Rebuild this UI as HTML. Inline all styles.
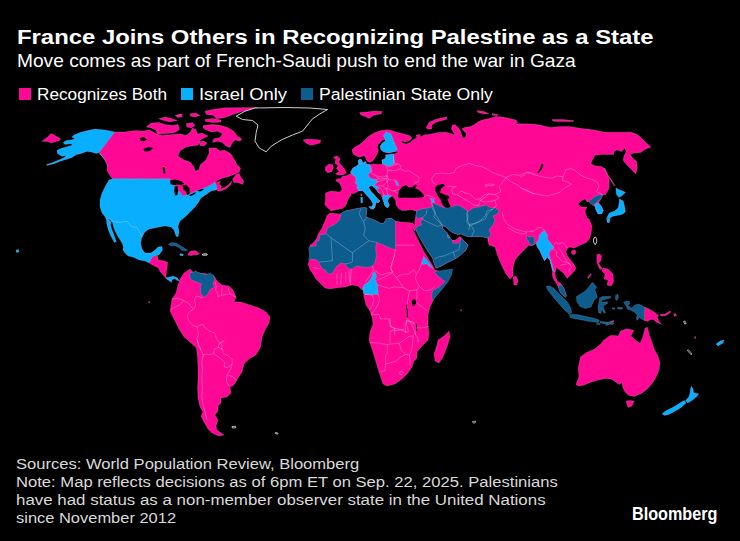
<!DOCTYPE html>
<html><head><meta charset="utf-8"><title>France Joins Others in Recognizing Palestine as a State</title><style>
html,body{margin:0;padding:0;background:#000;}
body{width:740px;height:541px;overflow:hidden;position:relative;font-family:"Liberation Sans",sans-serif;color:#fff;}
.t{position:absolute;white-space:nowrap;line-height:1;transform-origin:0 0;}
.sq{position:absolute;top:88.1px;width:12.2px;height:12.2px;}
svg{position:absolute;left:0;top:0;}
</style></head><body>
<svg width="740" height="541" viewBox="0 0 740 541" shape-rendering="geometricPrecision">
<path d="M41.9,141.2 L46.9,137.5 L51.2,133.5 L55.0,135.6 L60.6,138.8 L59.4,140.6 L51.2,143.1 L47.5,141.5Z" fill="#ff0896" stroke="#fff" stroke-opacity="0.28" stroke-width="0.5"/>
<path d="M115.0,131.9 L105.0,130.0 L95.0,129.0 L87.5,130.6 L80.0,132.5 L73.8,135.0 L71.9,136.9 L75.0,138.8 L71.2,140.0 L66.2,140.6 L63.1,142.5 L65.0,144.4 L71.2,143.8 L72.5,145.0 L66.2,146.9 L60.0,148.8 L56.9,150.6 L57.5,153.8 L61.9,156.2 L66.2,155.6 L64.4,157.5 L58.8,160.0 L52.5,162.5 L46.2,164.8 L46.9,165.5 L53.8,163.8 L61.2,161.0 L67.5,159.1 L72.5,157.2 L76.2,154.8 L81.2,153.4 L86.9,151.5 L91.2,152.1 L96.2,153.4 L99.4,152.5Z" fill="#0aaeff" stroke="#fff" stroke-opacity="0.28" stroke-width="0.5"/>
<path d="M99.4,152.5 L102.5,154.8 L105.2,157.2 L107.2,161.0 L108.0,164.0 L108.8,167.5 L107.8,167.5 L106.8,163.8 L105.2,160.6 L102.5,156.9 L100.0,154.4Z" fill="#0aaeff" stroke="#fff" stroke-opacity="0.28" stroke-width="0.5"/>
<path d="M115.0,132.0 L125.0,132.0 L135.0,130.6 L142.5,131.0 L150.0,130.0 L156.0,133.8 L162.5,135.6 L172.5,134.4 L180.0,133.8 L186.0,135.6 L190.0,132.5 L192.5,128.0 L196.0,129.4 L197.5,134.0 L202.0,133.0 L208.0,136.0 L200.0,140.0 L198.0,145.0 L186.0,147.0 L180.0,151.0 L178.0,156.0 L184.0,160.0 L190.0,162.0 L194.0,167.0 L195.0,171.0 L199.0,170.0 L200.0,165.0 L206.0,160.0 L209.0,153.0 L209.0,148.0 L216.0,148.0 L220.0,151.0 L224.0,150.0 L228.0,152.0 L231.0,154.1 L234.0,159.3 L237.0,164.5 L240.7,168.2 L239.2,172.0 L234.7,174.2 L228.8,176.4 L222.8,177.9 L218.4,180.1 L213.9,183.1 L216.9,182.4 L220.6,180.9 L219.1,183.9 L221.4,186.1 L220.6,189.1 L224.3,187.6 L228.8,184.6 L231.8,180.9 L231.0,184.6 L225.8,189.1 L219.9,191.3 L216.9,190.5 L215.4,188.3 L215.0,182.5 L207.0,187.0 L199.0,190.0 L189.0,194.0 L183.0,196.0 L178.0,190.0 L170.0,179.0 L112.5,178.8 L111.3,177.5 L108.8,173.8 L106.9,170.0 L107.5,165.6 L105.6,161.3 L102.5,156.3 L99.4,152.5Z" fill="#ff0896" stroke="#fff" stroke-opacity="0.28" stroke-width="0.5"/>
<path d="M106.4,219.2 L110.1,220.6 L110.9,222.5 L110.6,224.9 L111.6,228.7 L113.4,233.4 L114.9,237.6 L116.3,241.4 L114.4,242.6 L112.5,239.1 L110.1,234.3 L108.2,229.6 L106.8,223.9Z" fill="#0aaeff" stroke="#fff" stroke-opacity="0.28" stroke-width="0.5"/>
<path d="M112.5,178.8 L170.0,179.0 L178.0,190.0 L183.0,196.0 L189.0,194.0 L199.0,190.0 L207.0,187.0 L215.0,182.5 L217.0,188.0 L216.0,190.0 L211.0,191.0 L207.0,194.0 L201.0,198.0 L198.0,203.0 L195.0,207.0 L191.0,211.0 L185.0,217.0 L180.0,221.0 L178.0,226.0 L179.0,232.0 L178.0,237.0 L176.0,236.0 L174.0,230.0 L171.0,227.0 L165.0,226.0 L159.0,227.0 L155.0,228.0 L149.0,229.0 L145.0,232.0 L142.0,237.0 L140.6,243.0 L142.0,249.0 L145.0,253.0 L151.0,253.0 L155.0,250.0 L158.0,247.0 L162.0,246.5 L162.5,250.0 L159.0,255.0 L155.0,256.0 L152.0,259.0 L149.0,263.0 L145.0,261.0 L139.0,260.0 L133.0,257.0 L128.1,256.0 L125.3,253.2 L122.9,249.9 L123.4,247.1 L122.4,243.8 L120.1,240.0 L117.2,235.3 L115.3,231.5 L113.4,226.8 L112.5,222.5 L111.1,221.3 L110.1,219.2 L106.4,219.2 L104.5,216.0 L102.0,213.0 L100.0,207.0 L100.0,200.0 L102.0,193.0 L106.0,185.0 L109.0,180.0Z" fill="#0aaeff" stroke="#fff" stroke-opacity="0.28" stroke-width="0.5"/>
<path d="M170.0,180.4 L175.0,179.6 L181.0,181.0 L184.0,183.6 L181.4,185.6 L177.0,184.4 L173.4,185.2 L170.6,184.0Z" fill="#000000"/>
<path d="M174.6,186.4 L177.4,186.0 L178.2,190.0 L177.4,195.0 L175.0,195.6 L174.2,191.0Z" fill="#000000"/>
<path d="M182.6,185.6 L186.0,184.8 L189.4,188.0 L189.8,193.6 L187.4,195.0 L185.4,191.0 L183.0,189.0Z" fill="#000000"/>
<path d="M188.6,195.2 L193.0,193.2 L196.0,192.0 L195.0,194.0 L191.0,196.0Z" fill="#000000"/>
<path d="M197.0,190.8 L202.0,188.8 L204.0,189.6 L200.0,191.6Z" fill="#000000"/>
<path d="M140.0,138.0 L143.8,137.0 L146.8,139.5 L143.8,141.5 L140.5,140.5Z" fill="#000000"/>
<path d="M143.2,149.0 L148.8,147.0 L153.0,148.0 L150.0,151.0 L145.0,151.5Z" fill="#000000"/>
<path d="M162.5,167.0 L164.5,167.0 L165.5,173.0 L163.5,174.0Z" fill="#000000"/>
<path d="M146.2,126.9 L151.2,123.1 L158.8,122.5 L165.0,124.4 L172.5,125.6 L178.1,124.4 L179.4,129.4 L175.0,132.5 L166.2,133.5 L157.5,134.0 L155.6,130.0 L151.2,128.1Z" fill="#ff0896" stroke="#fff" stroke-opacity="0.28" stroke-width="0.5"/>
<path d="M158.8,118.8 L165.0,116.9 L172.5,118.8 L177.5,120.6 L170.0,121.9 L163.8,120.6Z" fill="#ff0896" stroke="#fff" stroke-opacity="0.28" stroke-width="0.5"/>
<path d="M175.0,115.6 L180.0,114.1 L182.8,114.5 L178.1,116.2Z" fill="#ff0896" stroke="#fff" stroke-opacity="0.28" stroke-width="0.5"/>
<path d="M205.0,111.2 L212.5,109.4 L225.0,107.8 L257.5,107.5 L245.0,110.6 L235.0,113.8 L225.0,117.5 L216.2,118.8 L213.8,115.6 L206.2,114.4Z" fill="#ff0896" stroke="#fff" stroke-opacity="0.28" stroke-width="0.5"/>
<path d="M205.0,119.4 L212.5,118.5 L221.2,120.0 L220.6,122.2 L212.5,122.5 L205.6,121.5Z" fill="#ff0896" stroke="#fff" stroke-opacity="0.28" stroke-width="0.5"/>
<path d="M190.0,113.8 L196.2,113.1 L200.0,115.6 L195.0,116.9 L190.6,116.2Z" fill="#ff0896" stroke="#fff" stroke-opacity="0.28" stroke-width="0.5"/>
<path d="M176.2,115.6 L181.2,114.4 L182.5,116.9 L177.5,117.5Z" fill="#ff0896" stroke="#fff" stroke-opacity="0.28" stroke-width="0.5"/>
<path d="M186.2,123.8 L192.5,122.5 L195.0,125.6 L191.2,128.1 L186.9,126.9Z" fill="#ff0896" stroke="#fff" stroke-opacity="0.28" stroke-width="0.5"/>
<path d="M203.1,125.6 L212.5,124.4 L221.2,125.6 L227.5,127.5 L233.8,131.2 L237.5,136.2 L241.9,138.8 L240.0,141.2 L235.0,140.0 L232.5,142.5 L230.0,147.5 L226.2,146.2 L222.5,142.5 L217.5,141.2 L212.5,142.5 L213.8,138.8 L220.0,137.5 L222.5,133.8 L217.5,131.2 L211.2,131.9 L206.2,130.0 L203.1,128.1Z" fill="#ff0896" stroke="#fff" stroke-opacity="0.28" stroke-width="0.5"/>
<path d="M198.8,141.9 L203.8,141.0 L206.9,143.1 L204.4,146.0 L200.0,145.6Z" fill="#ff0896" stroke="#fff" stroke-opacity="0.28" stroke-width="0.5"/>
<path d="M232.5,179.4 L236.2,174.2 L239.2,173.4 L240.7,177.2 L243.7,180.9 L242.9,184.6 L237.7,182.4 L234.0,182.4Z" fill="#ff0896" stroke="#fff" stroke-opacity="0.28" stroke-width="0.5"/>
<path d="M236.2,116.2 L245.0,111.2 L255.0,108.0 L285.0,107.5 L310.0,108.0 L327.5,109.5 L320.0,113.8 L312.5,118.8 L307.5,125.0 L302.5,131.2 L292.5,135.0 L281.2,140.0 L271.2,146.2 L266.2,151.8 L259.2,148.0 L255.0,141.2 L256.2,132.5 L258.0,125.0 L252.5,120.5 L242.5,119.5Z" fill="#000" stroke="#ffffff" stroke-width="0.9" stroke-opacity="0.9"/>
<path d="M303.0,140.1 L307.4,138.9 L314.9,139.4 L320.8,140.1 L320.1,143.1 L314.9,144.6 L310.4,145.3 L305.9,143.1Z" fill="#ff0896" stroke="#fff" stroke-opacity="0.28" stroke-width="0.5"/>
<path d="M152.6,256.4 L155.7,255.7 L157.6,256.4 L158.2,260.1 L163.9,260.8 L167.7,262.6 L167.0,267.7 L166.4,272.7 L165.8,276.5 L167.7,277.7 L166.4,279.0 L163.3,275.2 L160.1,271.4 L158.2,267.7 L153.8,265.8 L149.4,263.3 L150.7,260.1Z" fill="#ff0896" stroke="#fff" stroke-opacity="0.28" stroke-width="0.5"/>
<path d="M166.4,279.0 L167.0,277.7 L170.2,276.8 L173.9,276.2 L177.7,278.1 L179.2,281.1 L177.1,280.5 L174.6,278.6 L172.1,279.8 L171.4,282.4 L168.9,280.5Z" fill="#0aaeff" stroke="#fff" stroke-opacity="0.28" stroke-width="0.5"/>
<path d="M168.3,244.4 L171.4,242.5 L176.5,243.2 L181.5,246.3 L185.3,248.8 L187.8,250.1 L184.6,251.1 L181.5,250.1 L179.0,247.6 L175.2,245.7 L170.8,245.7Z" fill="#0d5c8e" stroke="#fff" stroke-opacity="0.28" stroke-width="0.5"/>
<path d="M179.6,254.1 L181.5,253.6 L183.5,254.6 L182.7,255.9 L180.2,255.6Z" fill="#0aaeff" stroke="#fff" stroke-opacity="0.28" stroke-width="0.5"/>
<path d="M189.0,252.6 L191.5,250.7 L195.9,250.7 L199.7,253.8 L196.6,255.1 L194.0,254.5 L191.5,255.7 L187.8,255.1Z" fill="#ff0896" stroke="#fff" stroke-opacity="0.28" stroke-width="0.5"/>
<path d="M202.5,254.1 L206.9,253.8 L207.1,255.1 L202.6,255.2Z" fill="#000" stroke="#ffffff" stroke-width="0.9" stroke-opacity="0.9"/>
<path d="M180.0,279.0 L184.0,273.0 L190.0,269.0 L193.0,272.0 L200.0,273.0 L208.0,274.0 L214.0,276.0 L217.0,281.0 L222.0,285.0 L229.0,286.0 L233.0,290.0 L236.0,297.0 L234.0,302.0 L241.0,302.0 L250.0,305.0 L259.0,308.0 L266.0,312.0 L270.0,317.0 L269.0,323.0 L265.0,330.0 L262.0,337.0 L261.0,345.0 L260.0,348.0 L256.0,355.0 L249.0,359.0 L244.0,364.0 L242.0,372.0 L238.0,378.0 L234.0,385.0 L230.0,387.0 L231.0,393.0 L227.0,397.0 L221.0,398.0 L221.0,403.0 L218.0,406.0 L218.0,411.0 L215.0,415.0 L218.0,420.0 L216.0,426.0 L217.0,430.0 L224.0,435.0 L219.0,436.0 L212.0,433.0 L208.0,429.0 L204.0,422.0 L201.0,416.0 L203.0,412.0 L200.0,407.0 L198.0,398.0 L197.6,388.0 L198.0,378.0 L198.0,368.0 L197.6,358.0 L196.4,348.0 L191.0,343.0 L184.0,337.0 L179.0,329.0 L174.0,319.0 L170.0,311.0 L171.0,305.0 L172.0,299.0 L176.0,293.0 L178.0,285.0Z" fill="#ff0896" stroke="#fff" stroke-opacity="0.28" stroke-width="0.5"/>
<path d="M190.3,272.7 L194.0,272.1 L195.3,270.8 L200.3,273.3 L205.4,274.6 L210.4,273.3 L213.5,275.2 L214.8,280.2 L212.9,283.4 L214.1,287.8 L210.4,289.0 L207.9,294.0 L204.1,297.2 L201.0,294.0 L200.3,287.8 L201.6,284.0 L195.3,281.5 L190.9,279.6 L189.6,275.8Z" fill="#0d5c8e" stroke="#fff" stroke-opacity="0.28" stroke-width="0.5"/>
<path d="M331.0,211.0 L328.0,208.0 L324.7,204.7 L325.5,199.7 L325.5,193.0 L331.0,191.0 L339.7,192.0 L342.0,189.5 L341.0,186.0 L339.5,183.0 L335.5,180.5 L337.0,179.0 L341.0,178.5 L342.0,176.5 L347.0,175.5 L351.0,173.5 L350.6,172.0 L353.0,168.0 L356.0,166.4 L358.8,163.9 L358.0,160.8 L360.0,158.9 L361.9,160.0 L362.5,163.0 L365.0,163.9 L370.0,164.5 L373.8,163.9 L378.8,164.5 L382.5,164.0 L381.9,160.0 L384.4,158.9 L386.0,157.6 L385.6,155.0 L393.8,153.9 L398.8,152.0 L395.1,151.5 L389.2,152.8 L384.0,152.0 L381.0,149.8 L380.3,146.1 L382.5,143.1 L385.5,140.9 L385.5,139.4 L382.5,140.1 L380.3,142.4 L378.0,144.6 L377.3,147.6 L378.5,150.5 L377.3,153.5 L375.8,156.5 L374.3,158.7 L372.8,160.9 L369.9,162.4 L367.6,161.7 L366.2,159.5 L365.4,157.2 L363.9,155.7 L361.7,156.5 L359.5,157.2 L355.7,155.7 L352.8,153.5 L352.0,149.8 L354.3,147.6 L359.5,144.6 L363.9,140.9 L368.4,136.4 L374.3,132.7 L381.0,130.5 L387.7,129.7 L392.5,130.8 L397.5,132.6 L403.8,133.9 L410.0,135.8 L411.9,138.0 L409.4,140.8 L405.0,142.0 L401.0,140.8 L402.5,143.0 L406.0,143.9 L410.0,142.6 L413.8,139.5 L416.9,137.6 L416.0,135.0 L420.0,134.5 L420.6,137.0 L423.9,134.9 L429.9,134.2 L437.3,132.7 L444.7,132.0 L450.7,133.4 L455.1,134.9 L451.4,129.0 L452.2,125.3 L455.1,124.5 L458.9,128.2 L461.1,132.7 L462.6,137.9 L465.5,137.2 L466.3,133.4 L461.8,129.0 L464.1,127.5 L470.0,126.8 L474.5,124.5 L477.4,122.3 L481.9,120.1 L489.3,118.6 L496.0,116.4 L502.7,117.1 L510.1,118.6 L516.1,120.1 L517.6,123.0 L513.1,124.5 L519.1,123.8 L525.0,123.8 L532.0,124.0 L540.0,125.0 L550.0,127.5 L560.0,126.4 L568.9,126.4 L582.3,128.6 L594.2,130.1 L604.6,132.3 L619.5,132.3 L631.4,132.3 L637.3,134.5 L642.5,139.0 L646.2,142.7 L651.0,146.9 L644.7,149.4 L641.0,152.4 L634.3,153.1 L629.9,154.6 L632.8,158.3 L636.6,161.3 L637.3,168.0 L635.8,173.9 L631.4,169.5 L626.9,165.0 L623.2,160.5 L623.9,156.1 L626.2,151.6 L624.7,147.9 L621.7,151.6 L617.2,150.1 L614.3,150.9 L613.5,154.6 L609.1,154.6 L601.6,154.6 L594.9,155.3 L590.5,163.5 L594.9,165.7 L601.6,166.5 L604.6,168.7 L607.0,174.0 L609.0,179.0 L609.2,185.7 L608.4,190.1 L605.5,194.6 L602.5,195.3 L601.0,199.1 L598.5,202.5 L601.0,205.7 L603.2,210.2 L601.8,213.9 L598.0,213.9 L595.8,209.5 L595.1,206.5 L592.8,205.0 L590.6,203.5 L589.1,201.3 L587.0,202.0 L585.0,199.0 L581.0,201.0 L578.0,204.0 L581.0,207.0 L587.0,207.0 L585.0,211.0 L587.0,218.0 L589.0,219.0 L592.0,226.0 L591.0,234.0 L589.3,239.1 L586.3,242.5 L581.5,244.6 L577.4,246.6 L573.9,248.3 L572.6,247.7 L569.8,247.0 L567.4,248.3 L566.1,251.4 L566.8,254.8 L569.2,258.3 L571.9,261.7 L574.3,265.1 L576.0,268.0 L574.5,270.8 L571.2,274.6 L567.0,278.4 L563.7,273.2 L559.9,270.3 L556.6,267.5 L555.1,272.7 L555.6,277.4 L557.5,281.2 L560.8,283.6 L563.7,287.8 L565.1,291.6 L566.5,295.9 L565.5,297.3 L563.2,295.4 L560.3,292.6 L558.4,287.0 L555.6,282.2 L553.2,278.4 L552.3,275.5 L552.5,272.0 L551.2,265.2 L549.7,260.0 L547.4,257.0 L544.5,260.7 L542.2,256.3 L540.0,251.1 L537.0,246.6 L536.3,242.9 L534.0,245.0 L530.0,246.0 L529.0,245.0 L526.0,248.0 L521.0,253.0 L515.0,260.0 L513.0,268.0 L513.0,276.0 L510.0,279.0 L506.0,274.0 L501.0,264.0 L497.0,254.0 L495.0,247.0 L489.0,245.0 L488.0,241.0 L488.0,238.0 L481.7,236.7 L475.0,236.7 L468.0,236.7 L465.3,235.8 L460.9,233.9 L457.8,234.5 L452.7,232.7 L448.3,229.5 L445.2,226.4 L442.1,225.8 L442.7,228.3 L444.6,230.2 L447.1,232.7 L448.3,235.8 L450.2,237.7 L452.1,240.2 L455.8,240.8 L459.0,238.0 L461.0,237.5 L464.0,241.0 L468.0,245.0 L466.0,250.0 L461.7,254.0 L457.5,257.5 L453.0,260.0 L446.7,263.0 L440.0,266.7 L436.0,268.0 L434.0,263.0 L432.5,258.0 L428.0,251.7 L424.0,245.0 L420.0,238.0 L416.7,231.7 L415.8,228.0 L414.5,222.0 L415.8,215.8 L416.7,210.8 L415.0,211.0 L411.0,209.4 L406.0,210.6 L402.0,210.6 L398.8,208.8 L396.0,205.0 L395.6,200.0 L392.0,196.0 L388.8,198.0 L387.5,201.0 L389.4,205.0 L387.5,208.0 L385.0,206.0 L383.8,202.0 L382.5,198.8 L381.0,195.0 L379.0,192.5 L376.0,188.5 L372.0,185.6 L369.5,186.5 L368.8,187.5 L370.6,191.0 L374.4,195.0 L377.5,198.8 L380.0,201.0 L378.0,203.0 L376.0,202.0 L375.6,205.0 L374.4,208.0 L372.0,207.5 L373.0,204.0 L371.0,200.0 L367.0,195.5 L362.5,190.5 L358.8,191.0 L353.8,193.8 L351.0,193.0 L350.8,195.5 L348.0,199.5 L346.8,203.5 L345.0,206.5 L342.0,208.6 L337.0,209.5 L333.0,210.5Z" fill="#ff0896" stroke="#fff" stroke-opacity="0.28" stroke-width="0.5"/>
<path d="M398.0,197.0 L398.8,191.0 L402.0,187.0 L406.0,185.0 L408.8,187.5 L412.5,187.0 L415.6,184.4 L417.0,185.5 L415.0,188.0 L418.8,190.0 L423.0,193.8 L424.4,197.0 L420.0,197.5 L412.5,198.0 L405.0,197.5 L400.0,198.0Z" fill="#000000"/>
<path d="M435.4,187.2 L437.6,184.9 L443.6,183.9 L445.1,185.7 L441.4,187.9 L439.9,192.4 L444.3,194.6 L448.8,196.1 L449.5,198.3 L447.3,199.1 L448.8,202.8 L450.6,206.5 L449.5,208.7 L445.8,208.0 L442.1,204.3 L440.6,199.8 L437.6,195.3 L435.4,190.9Z" fill="#000000"/>
<path d="M542.3,163.4 L543.5,164.9 L541.6,169.3 L538.6,173.0 L537.5,172.6 L540.1,168.6 L541.1,164.9Z" fill="#000000"/>
<path d="M426.1,127.5 L429.1,122.3 L435.8,119.3 L447.0,116.8 L446.4,119.5 L437.3,121.8 L432.3,124.5 L431.4,129.0 L427.6,129.2Z" fill="#ff0896" stroke="#fff" stroke-opacity="0.28" stroke-width="0.5"/>
<path d="M477.0,110.4 L484.0,111.6 L489.0,113.6 L484.0,114.0 L478.0,112.4Z" fill="#ff0896" stroke="#fff" stroke-opacity="0.28" stroke-width="0.5"/>
<path d="M492.0,113.6 L498.0,114.6 L497.0,115.8 L492.0,115.0Z" fill="#ff0896" stroke="#fff" stroke-opacity="0.28" stroke-width="0.5"/>
<path d="M552.0,119.6 L562.0,119.4 L574.0,120.6 L573.0,121.6 L560.0,121.4 L553.0,121.2Z" fill="#ff0896" stroke="#fff" stroke-opacity="0.28" stroke-width="0.5"/>
<path d="M604.7,167.8 L607.7,174.5 L611.4,179.7 L615.1,185.7 L613.9,185.4 L610.4,179.7 L607.0,174.5 L604.1,169.0Z" fill="#ff0896" stroke="#fff" stroke-opacity="0.28" stroke-width="0.5"/>
<path d="M333.4,157.2 L337.2,155.7 L340.1,158.7 L338.9,162.4 L341.6,165.4 L344.6,169.1 L346.4,172.8 L343.1,175.1 L337.2,175.1 L335.7,173.6 L339.4,171.4 L336.4,168.4 L337.9,165.4 L334.9,163.2 L335.7,159.5Z" fill="#ff0896" stroke="#fff" stroke-opacity="0.28" stroke-width="0.5"/>
<path d="M325.3,166.9 L329.0,163.9 L332.7,164.7 L333.4,167.6 L332.0,171.4 L327.5,172.8 L325.3,170.6Z" fill="#ff0896" stroke="#fff" stroke-opacity="0.28" stroke-width="0.5"/>
<path d="M359.5,112.6 L366.9,111.9 L374.3,111.1 L382.5,111.6 L381.0,114.1 L374.3,114.9 L369.1,118.6 L365.4,116.4 L360.9,114.9Z" fill="#ff0896" stroke="#fff" stroke-opacity="0.28" stroke-width="0.5"/>
<path d="M360.6,193.8 L361.9,193.8 L362.0,195.8 L360.9,195.8Z" fill="#ff0896" stroke="#fff" stroke-opacity="0.28" stroke-width="0.5"/>
<path d="M513.0,277.0 L516.0,276.0 L518.0,280.0 L517.0,285.0 L514.0,285.0Z" fill="#ff0896" stroke="#fff" stroke-opacity="0.28" stroke-width="0.5"/>
<path d="M571.4,251.4 L573.0,249.9 L575.2,250.3 L576.0,252.2 L574.8,254.3 L572.6,254.6 L571.3,253.2Z" fill="#ff0896" stroke="#fff" stroke-opacity="0.28" stroke-width="0.5"/>
<path d="M383.2,135.7 L386.2,132.0 L390.7,133.4 L392.9,138.6 L395.1,144.6 L397.4,149.1 L395.1,151.5 L389.2,152.8 L384.0,152.0 L381.0,149.8 L380.3,146.1 L382.5,143.1 L385.5,140.9 L384.7,137.9Z" fill="#0aaeff" stroke="#fff" stroke-opacity="0.28" stroke-width="0.5"/>
<path d="M385.6,155.0 L393.8,153.9 L393.8,158.0 L394.4,162.0 L392.5,165.0 L389.4,167.0 L386.0,165.0 L382.5,164.0 L381.9,160.0 L384.4,158.9 L386.0,157.6Z" fill="#0aaeff" stroke="#fff" stroke-opacity="0.28" stroke-width="0.5"/>
<path d="M358.8,163.9 L358.0,160.8 L360.0,158.9 L361.9,160.0 L362.5,163.0Z" fill="#0aaeff" stroke="#fff" stroke-opacity="0.28" stroke-width="0.5"/>
<path d="M363.5,162.0 L366.0,161.5 L366.5,163.5 L364.0,164.0Z" fill="#0aaeff" stroke="#fff" stroke-opacity="0.28" stroke-width="0.5"/>
<path d="M358.8,163.9 L362.5,163.0 L365.0,163.9 L370.0,164.5 L370.6,168.0 L371.0,172.0 L368.0,174.5 L369.4,177.6 L373.0,179.0 L376.0,179.5 L377.5,182.0 L375.0,184.5 L375.0,185.8 L372.0,185.6 L369.5,186.5 L368.8,187.5 L370.6,191.0 L374.4,195.0 L377.5,198.8 L380.0,201.0 L378.0,203.0 L376.0,202.0 L375.6,205.0 L374.4,208.0 L372.0,207.5 L373.0,204.0 L371.0,200.0 L367.0,195.5 L362.5,190.5 L358.8,191.0 L357.5,188.8 L356.9,187.0 L357.5,185.0 L355.0,183.0 L356.0,180.8 L355.6,177.0 L352.0,174.5 L350.6,172.0 L353.0,168.0 L356.0,166.4Z" fill="#0aaeff" stroke="#fff" stroke-opacity="0.28" stroke-width="0.5"/>
<path d="M372.0,185.6 L375.0,185.8 L378.0,186.5 L379.0,188.5 L376.5,188.5 L378.0,191.0 L380.0,193.5 L378.5,193.0 L376.0,189.5Z" fill="#0aaeff" stroke="#fff" stroke-opacity="0.28" stroke-width="0.5"/>
<path d="M368.8,206.5 L374.4,206.2 L374.0,209.0 L371.9,209.5 L369.4,207.8Z" fill="#0aaeff" stroke="#fff" stroke-opacity="0.28" stroke-width="0.5"/>
<path d="M360.6,197.2 L362.5,197.0 L362.6,202.8 L360.9,203.0Z" fill="#0aaeff" stroke="#fff" stroke-opacity="0.28" stroke-width="0.5"/>
<path d="M383.0,195.6 L388.0,195.0 L392.0,196.0 L388.8,198.0 L387.5,201.0 L389.4,205.0 L387.5,208.0 L385.0,206.0 L383.8,202.0 L382.5,198.8Z" fill="#0aaeff" stroke="#fff" stroke-opacity="0.28" stroke-width="0.5"/>
<path d="M395.0,180.8 L397.5,181.5 L398.8,185.8 L396.8,185.5Z" fill="#0aaeff" stroke="#fff" stroke-opacity="0.28" stroke-width="0.5"/>
<path d="M430.0,198.0 L434.0,199.5 L434.5,202.5 L432.0,202.0Z" fill="#0aaeff" stroke="#fff" stroke-opacity="0.28" stroke-width="0.5"/>
<path d="M416.7,210.8 L421.7,209.0 L428.0,208.0 L432.5,206.7 L432.5,202.5 L436.0,204.0 L440.0,206.0 L443.0,207.5 L448.0,208.0 L451.7,206.7 L458.0,205.0 L465.0,209.0 L468.0,211.7 L473.0,208.0 L480.0,206.7 L486.0,205.0 L491.0,208.0 L495.0,207.5 L499.0,211.0 L497.5,214.0 L493.0,216.0 L495.0,220.0 L493.0,225.0 L489.0,230.0 L491.0,235.0 L488.0,238.0 L488.0,241.0 L488.0,238.0 L481.7,236.7 L475.0,236.7 L468.0,236.7 L465.3,235.8 L460.9,233.9 L457.8,234.5 L452.7,232.7 L448.3,229.5 L445.2,226.4 L442.1,225.8 L442.7,228.3 L444.6,230.2 L447.1,232.7 L448.3,235.8 L450.2,237.7 L452.1,240.2 L455.5,242.5 L459.5,241.5 L461.0,237.5 L464.0,241.0 L468.0,245.0 L466.0,250.0 L461.7,254.0 L457.5,257.5 L453.0,260.0 L446.7,263.0 L440.0,266.7 L436.0,268.0 L434.0,263.0 L432.5,258.0 L428.0,251.7 L424.0,245.0 L420.0,238.0 L416.7,231.7 L415.8,228.0 L418.0,226.0 L421.7,225.0 L420.0,221.7 L424.0,219.0 L421.7,217.5 L417.5,219.0 L415.8,215.8Z" fill="#0d5c8e" stroke="#fff" stroke-opacity="0.28" stroke-width="0.5"/>
<path d="M526.6,235.5 L529.6,237.0 L533.3,236.2 L534.8,239.9 L534.4,243.9 L532.6,245.1 L529.6,244.4 L528.1,240.7 L526.6,238.4Z" fill="#0d5c8e" stroke="#fff" stroke-opacity="0.28" stroke-width="0.5"/>
<path d="M589.1,201.3 L594.3,196.8 L599.5,194.6 L602.5,195.3 L601.0,199.1 L597.3,201.3 L595.1,204.3 L592.8,205.0 L590.6,203.5Z" fill="#0d5c8e" stroke="#fff" stroke-opacity="0.28" stroke-width="0.5"/>
<path d="M595.1,204.3 L598.0,202.8 L601.0,205.7 L603.2,210.2 L601.8,213.9 L598.0,213.9 L595.8,209.5 L595.1,206.5Z" fill="#0aaeff" stroke="#fff" stroke-opacity="0.28" stroke-width="0.5"/>
<path d="M544.5,230.3 L547.4,234.7 L547.4,239.2 L551.2,243.7 L554.1,247.4 L550.4,250.3 L548.9,254.1 L550.4,258.5 L551.9,263.7 L553.4,268.9 L554.6,271.9 L552.6,270.4 L551.2,265.2 L549.7,260.0 L547.4,257.0 L544.5,260.7 L542.2,256.3 L540.0,251.1 L537.0,246.6 L536.3,242.9 L538.5,239.9 L539.3,235.5 L541.5,232.5Z" fill="#0aaeff" stroke="#fff" stroke-opacity="0.28" stroke-width="0.5"/>
<path d="M558.4,285.5 L561.3,285.0 L563.7,287.8 L565.1,291.6 L566.5,295.9 L565.5,297.3 L563.2,295.4 L560.3,292.6 L558.9,289.3Z" fill="#0d5c8e" stroke="#fff" stroke-opacity="0.28" stroke-width="0.5"/>
<path d="M615.9,187.9 L619.6,189.8 L625.5,192.2 L622.6,195.3 L618.9,197.6 L616.4,194.6Z" fill="#0aaeff" stroke="#fff" stroke-opacity="0.28" stroke-width="0.5"/>
<path d="M619.4,198.8 L623.3,201.0 L624.8,207.2 L625.5,211.7 L622.6,214.2 L617.4,215.6 L612.2,216.4 L609.2,219.1 L606.8,217.6 L609.3,213.0 L614.5,211.0 L618.0,208.0 L619.0,203.5Z" fill="#0aaeff" stroke="#fff" stroke-opacity="0.28" stroke-width="0.5"/>
<path d="M606.6,218.2 L610.0,219.1 L609.3,223.0 L607.2,222.6Z" fill="#0aaeff" stroke="#fff" stroke-opacity="0.28" stroke-width="0.5"/>
<path d="M330.0,213.0 L335.0,213.5 L340.0,214.0 L345.0,211.0 L350.0,210.0 L357.0,208.5 L363.8,207.5 L367.0,208.0 L366.5,213.0 L366.0,217.0 L370.0,218.5 L376.0,220.8 L381.0,223.5 L384.0,223.0 L386.0,219.0 L391.0,218.0 L395.0,221.0 L401.0,222.0 L407.5,222.5 L413.0,223.0 L414.4,225.0 L415.8,228.0 L415.0,231.5 L412.5,228.5 L410.5,226.5 L413.8,231.4 L417.6,238.9 L421.3,246.5 L424.5,252.8 L427.0,256.5 L430.1,261.6 L433.3,266.6 L434.5,270.0 L442.0,272.0 L451.0,270.0 L450.0,275.0 L446.0,283.0 L440.0,291.0 L434.0,298.0 L432.0,303.0 L430.0,307.0 L428.0,315.0 L428.0,325.0 L429.0,333.0 L428.0,340.0 L422.0,346.0 L417.0,352.0 L417.0,358.0 L414.0,361.0 L412.0,367.0 L408.0,373.0 L402.0,379.0 L395.0,384.0 L387.0,386.0 L383.0,384.0 L381.0,378.0 L378.0,369.0 L375.0,359.0 L372.0,349.0 L369.0,340.0 L370.0,332.0 L373.0,324.0 L372.0,317.0 L370.0,311.0 L366.0,305.0 L364.0,297.0 L363.0,291.0 L364.0,288.0 L362.0,290.0 L358.0,286.0 L352.0,285.0 L345.0,287.0 L336.0,288.0 L330.0,289.0 L325.0,288.0 L320.0,283.0 L316.0,279.0 L313.0,274.0 L310.0,270.0 L308.0,264.0 L310.0,259.0 L310.0,252.0 L310.0,245.0 L313.0,243.0 L317.0,238.0 L318.0,234.0 L322.0,228.0 L325.0,221.0 L327.0,215.5Z" fill="#ff0896" stroke="#fff" stroke-opacity="0.28" stroke-width="0.5"/>
<path d="M341.0,213.5 L345.0,211.0 L350.0,210.0 L357.0,208.5 L363.8,207.5 L367.0,208.0 L366.5,213.0 L366.0,217.0 L370.0,218.5 L376.0,220.8 L381.0,223.5 L384.0,223.0 L386.0,219.0 L391.0,218.0 L395.4,221.0 L395.4,249.6 L392.7,248.9 L376.4,242.2 L375.6,248.1 L376.4,255.5 L374.9,263.0 L372.6,265.9 L367.4,267.4 L361.5,266.7 L356.3,265.9 L352.6,268.9 L349.6,268.9 L345.9,265.9 L345.1,263.7 L340.7,263.0 L337.0,265.9 L334.7,268.9 L333.2,272.6 L330.3,274.1 L327.3,273.4 L325.8,270.4 L322.8,268.9 L320.6,265.9 L319.1,263.0 L317.6,260.7 L314.7,259.3 L310.9,259.3 L308.7,260.7 L309.5,254.1 L308.7,248.9 L309.5,246.6 L316.1,245.9 L316.1,241.4 L319.1,240.7 L319.9,234.7 L325.8,234.0 L326.6,231.0 L327.3,228.0 L334.7,224.3 L339.2,220.6 L340.7,216.1Z" fill="#0d5c8e" stroke="#fff" stroke-opacity="0.28" stroke-width="0.5"/>
<path d="M374.5,271.4 L376.8,275.8 L375.3,279.5 L377.5,284.7 L378.2,294.4 L364.9,294.4 L362.6,289.2 L364.1,284.7 L367.8,282.5 L370.8,278.8 L373.0,273.6Z" fill="#0aaeff" stroke="#fff" stroke-opacity="0.28" stroke-width="0.5"/>
<path d="M421.4,263.9 L423.6,256.5 L426.6,259.5 L431.0,265.4 L433.2,268.4 L430.3,266.9 L426.6,263.9 L422.8,264.2Z" fill="#0aaeff" stroke="#fff" stroke-opacity="0.28" stroke-width="0.5"/>
<path d="M435.5,271.4 L445.1,269.9 L452.6,269.1 L451.8,274.3 L448.1,281.8 L442.2,289.2 L436.2,295.9 L432.5,301.1 L431.8,296.6 L432.5,290.7 L439.2,287.0 L445.1,281.8 L437.7,275.8 L434.7,272.8Z" fill="#0d5c8e" stroke="#fff" stroke-opacity="0.28" stroke-width="0.5"/>
<path d="M449.0,331.0 L450.0,337.0 L447.0,347.0 L443.0,357.0 L439.0,363.0 L435.0,361.0 L434.0,354.0 L437.0,345.0 L438.0,340.0 L444.0,336.0Z" fill="#ff0896" stroke="#fff" stroke-opacity="0.28" stroke-width="0.5"/>
<path d="M411.7,301.1 L413.6,299.3 L415.9,299.9 L416.2,303.3 L414.2,305.8 L412.1,305.2Z" fill="#000000"/>
<path d="M546.1,286.4 L549.0,285.8 L553.2,287.8 L557.0,291.6 L560.8,295.4 L564.6,299.2 L568.5,303.5 L571.0,309.0 L571.5,312.5 L569.0,314.0 L565.0,310.5 L560.5,305.5 L556.6,301.0 L554.2,298.2 L550.4,293.5 L547.6,289.7Z" fill="#0d5c8e" stroke="#fff" stroke-opacity="0.28" stroke-width="0.5"/>
<path d="M593.0,282.6 L596.8,287.4 L594.9,289.7 L596.3,293.5 L597.2,297.3 L594.0,300.5 L591.0,307.0 L585.5,308.5 L580.0,306.5 L576.8,301.5 L576.4,296.4 L579.7,294.5 L584.5,291.6 L588.3,287.8 L591.6,283.1Z" fill="#0d5c8e" stroke="#fff" stroke-opacity="0.28" stroke-width="0.5"/>
<path d="M569.6,314.2 L577.0,314.6 L586.0,316.6 L594.0,318.2 L599.4,320.0 L598.4,322.4 L590.0,321.6 L582.0,320.0 L574.0,318.6 L570.0,317.4Z" fill="#0d5c8e" stroke="#fff" stroke-opacity="0.28" stroke-width="0.5"/>
<path d="M600.0,321.5 L608.0,322.0 L614.0,323.0 L613.0,324.5 L606.0,324.0 L600.0,323.0Z" fill="#0d5c8e" stroke="#fff" stroke-opacity="0.28" stroke-width="0.5"/>
<path d="M599.5,298.2 L602.3,296.6 L610.3,296.2 L611.0,297.8 L605.6,299.2 L601.8,300.3 L601.4,302.5 L605.1,302.0 L607.8,301.8 L607.2,303.7 L604.2,305.1 L603.2,307.2 L605.6,312.4 L604.2,313.6 L601.8,309.1 L600.9,313.4 L598.7,312.9 L598.0,307.2 L599.0,302.0Z" fill="#0d5c8e" stroke="#fff" stroke-opacity="0.28" stroke-width="0.5"/>
<path d="M623.6,302.5 L626.0,301.1 L629.3,301.6 L629.7,303.9 L627.8,305.3 L631.6,308.2 L634.5,305.3 L638.2,303.9 L641.6,305.3 L644.9,307.2 L644.4,320.5 L641.6,319.1 L639.2,317.2 L638.2,319.5 L636.8,320.5 L636.4,317.6 L637.3,315.3 L634.9,312.4 L631.6,310.5 L627.4,309.1 L626.4,306.3 L625.0,304.4Z" fill="#0d5c8e" stroke="#fff" stroke-opacity="0.28" stroke-width="0.5"/>
<path d="M644.9,307.2 L648.7,308.7 L652.4,311.0 L656.2,313.4 L658.6,315.7 L657.2,317.6 L658.6,320.5 L661.5,324.5 L656.2,321.9 L653.4,319.5 L650.5,319.5 L647.7,321.4 L644.4,320.5Z" fill="#ff0896" stroke="#fff" stroke-opacity="0.28" stroke-width="0.5"/>
<path d="M660.0,314.5 L665.0,314.0 L670.0,311.0 L671.0,312.0 L666.0,315.5 L661.0,316.0Z" fill="#ff0896" stroke="#fff" stroke-opacity="0.28" stroke-width="0.5"/>
<path d="M596.8,254.7 L599.1,253.8 L601.5,255.7 L601.0,260.4 L598.7,263.2 L600.5,266.1 L602.5,268.9 L600.0,269.4 L598.2,266.1 L596.8,261.4Z" fill="#ff0896" stroke="#fff" stroke-opacity="0.28" stroke-width="0.5"/>
<path d="M603.0,268.0 L608.0,269.0 L613.0,274.0 L613.6,282.0 L611.0,286.0 L607.0,285.0 L608.0,280.0 L604.0,279.0 L605.0,274.0 L602.0,271.0Z" fill="#ff0896" stroke="#fff" stroke-opacity="0.28" stroke-width="0.5"/>
<path d="M587.5,277.5 L590.5,273.5 L591.3,274.2 L588.6,278.4Z" fill="#ff0896" stroke="#fff" stroke-opacity="0.28" stroke-width="0.5"/>
<path d="M615.5,295.4 L617.9,294.0 L618.4,297.3 L617.0,300.6 L615.5,299.2Z" fill="#0d5c8e" stroke="#fff" stroke-opacity="0.28" stroke-width="0.5"/>
<path d="M612.2,307.7 L615.0,307.9 L614.8,309.2 L612.3,309.0Z" fill="#0d5c8e" stroke="#fff" stroke-opacity="0.28" stroke-width="0.5"/>
<path d="M617.4,307.3 L622.6,307.6 L622.4,309.2 L617.6,308.9Z" fill="#0d5c8e" stroke="#fff" stroke-opacity="0.28" stroke-width="0.5"/>
<path d="M605.6,324.7 L608.9,321.9 L611.0,321.2 L611.6,322.4 L609.9,323.8 L606.6,325.7Z" fill="#0d5c8e" stroke="#fff" stroke-opacity="0.28" stroke-width="0.5"/>
<path d="M611.0,321.2 L613.7,320.5 L614.1,321.4 L611.6,322.4Z" fill="#ff0896" stroke="#fff" stroke-opacity="0.28" stroke-width="0.5"/>
<path d="M596.6,323.2 L599.8,323.4 L599.6,324.8 L596.8,324.6Z" fill="#0d5c8e" stroke="#fff" stroke-opacity="0.28" stroke-width="0.5"/>
<path d="M575.9,384.5 L578.9,377.0 L578.2,368.1 L580.4,357.0 L586.4,352.5 L593.8,349.5 L600.5,344.3 L603.4,340.6 L610.1,335.4 L614.6,335.4 L618.3,336.1 L620.5,330.9 L626.5,328.7 L633.9,330.2 L630.9,336.1 L635.4,339.9 L639.9,343.6 L642.8,336.9 L645.1,328.0 L647.3,327.2 L649.5,335.4 L651.8,341.4 L654.0,348.8 L657.7,355.5 L659.9,362.2 L659.2,369.6 L656.2,377.0 L652.5,383.0 L647.3,388.9 L641.4,393.4 L633.9,396.4 L628.7,395.6 L625.0,391.9 L622.8,387.4 L622.0,382.2 L619.1,384.5 L616.1,382.2 L611.6,379.3 L605.7,378.5 L598.2,380.0 L590.8,382.2 L583.4,385.2 L578.2,385.9Z" fill="#ff0896" stroke="#fff" stroke-opacity="0.28" stroke-width="0.5"/>
<path d="M626.0,401.0 L630.0,400.5 L634.0,401.0 L632.0,406.0 L628.0,407.5Z" fill="#ff0896" stroke="#fff" stroke-opacity="0.28" stroke-width="0.5"/>
<path d="M691.2,386.2 L693.0,388.8 L693.8,393.0 L698.8,393.8 L696.2,397.0 L692.0,400.5 L687.5,403.0 L685.5,400.5 L688.8,397.0 L690.0,393.0 L690.5,388.8Z" fill="#0aaeff" stroke="#fff" stroke-opacity="0.28" stroke-width="0.5"/>
<path d="M684.5,400.5 L686.0,403.0 L681.2,407.5 L675.0,411.2 L668.8,414.5 L664.5,415.5 L662.0,413.8 L666.2,410.5 L672.5,407.5 L678.8,403.8 L682.5,401.2Z" fill="#0aaeff" stroke="#fff" stroke-opacity="0.28" stroke-width="0.5"/>
<path d="M716.0,344.0 L720.0,341.0 L724.0,340.0 L723.0,343.0 L718.0,346.0Z" fill="#0aaeff" stroke="#fff" stroke-opacity="0.28" stroke-width="0.5"/>
<path d="M16.0,250.0 L18.5,249.5 L19.0,252.0 L16.5,252.5Z" fill="#0aaeff" stroke="#fff" stroke-opacity="0.28" stroke-width="0.5"/>
<path d="M595.3,237.0 L596.6,238.5 L596.8,241.5 L595.5,244.5 L594.0,243.5 L593.5,240.5 L594.0,238.0Z" fill="#000" stroke="#ffffff" stroke-width="0.9" stroke-opacity="0.9"/>
<path d="M406.0,304.8 L407.1,305.5 L407.7,311.5 L407.4,318.2 L406.3,317.4 L406.5,311.5Z" fill="#000000"/>
<path d="M415.4,323.6 L416.6,324.2 L417.3,331.4 L416.4,331.1Z" fill="#000000"/>
<path d="M452.1,240.8 L456.5,239.6 L459.6,236.4 L460.9,237.1 L460.3,241.5 L457.8,243.3 L453.4,243.3Z" fill="#ff0896" stroke="#fff" stroke-opacity="0.28" stroke-width="0.5"/>
<path d="M673.5,314.0 L675.5,313.5 L676.5,315.5 L674.5,316.5Z" fill="#ff0896" stroke="#fff" stroke-opacity="0.28" stroke-width="0.5"/>
<path d="M683.5,321.5 L685.0,321.0 L686.2,323.5 L684.8,324.0Z" fill="#000" stroke="#cccccc" stroke-width="0.9" stroke-opacity="0.9"/>
<path d="M694.5,336.8 L695.6,336.6 L695.8,338.2 L694.7,338.4Z" fill="#ff0896" stroke="#fff" stroke-opacity="0.28" stroke-width="0.5"/>
<path d="M687.3,350.2 L688.4,349.6 L692.0,354.0 L691.0,354.8Z" fill="#000" stroke="#bbbbbb" stroke-width="0.9" stroke-opacity="0.9"/>
<path d="M472.5,421.5 L475.8,421.2 L475.0,423.0 L473.2,423.0Z" fill="#000" stroke="#bbbbbb" stroke-width="0.9" stroke-opacity="0.9"/>
<path d="M232.0,426.5 L235.5,426.3 L235.8,427.8 L232.3,428.0Z" fill="#000" stroke="#dddddd" stroke-width="0.9" stroke-opacity="0.9"/>
<path d="M275.5,432.5 L278.0,433.2 L277.5,434.2 L275.2,433.4Z" fill="#000" stroke="#dddddd" stroke-width="0.9" stroke-opacity="0.9"/>
<path d="M460.6,309.6 L461.6,309.6 L461.6,310.8 L460.6,310.8Z" fill="#ff0896" stroke="#fff" stroke-opacity="0.28" stroke-width="0.5"/>
<path d="M148.6,301.5 L149.8,301.5 L149.8,302.7 L148.6,302.7Z" fill="#ff0896" stroke="#fff" stroke-opacity="0.28" stroke-width="0.5"/>
<path d="M202.9,297.5 L196.2,296.0 L194.7,299.7 L195.5,305.7 L193.2,309.4 L188.8,312.4 L187.3,316.1 L188.8,321.3 L192.5,325.0 L197.0,327.2 L198.4,325.7 L202.9,324.3 L205.1,328.0 L209.6,330.9 L214.8,333.2 L216.3,338.4 L218.5,341.4 L221.5,343.6 L222.2,347.3 L220.7,350.0" fill="none" stroke="#fff" stroke-opacity="0.45" stroke-width="0.55"/>
<path d="M170.9,309.4 L174.7,307.2 L179.9,304.9 L183.6,300.5 L188.8,303.4 L193.2,309.4" fill="none" stroke="#fff" stroke-opacity="0.45" stroke-width="0.55"/>
<path d="M172.4,299.0 L177.6,298.2 L183.6,300.5" fill="none" stroke="#fff" stroke-opacity="0.45" stroke-width="0.55"/>
<path d="M197.0,327.2 L198.4,333.9 L197.0,339.1 L198.4,344.3 L200.7,350.0" fill="none" stroke="#fff" stroke-opacity="0.45" stroke-width="0.55"/>
<path d="M214.8,281.9 L216.3,286.4 L215.5,290.1 L217.8,293.8 L217.8,296.8 L221.5,295.3 L225.9,294.5 L230.4,293.8 L234.1,296.0 L237.1,299.0" fill="none" stroke="#fff" stroke-opacity="0.45" stroke-width="0.55"/>
<path d="M222.2,286.4 L221.5,295.3" fill="none" stroke="#fff" stroke-opacity="0.45" stroke-width="0.55"/>
<path d="M228.2,287.8 L229.7,293.8" fill="none" stroke="#fff" stroke-opacity="0.45" stroke-width="0.55"/>
<path d="M197.3,340.0 L198.8,345.9 L201.0,350.4 L203.2,354.9" fill="none" stroke="#fff" stroke-opacity="0.45" stroke-width="0.55"/>
<path d="M203.2,354.9 L201.8,362.3 L202.5,369.7 L201.8,378.7 L202.5,387.6 L201.8,396.5 L203.2,405.4 L205.5,414.3 L207.0,420.0" fill="none" stroke="#fff" stroke-opacity="0.45" stroke-width="0.55"/>
<path d="M203.2,354.9 L207.0,354.1 L210.7,354.9 L213.7,352.6 L214.4,348.9 L218.1,347.4 L222.6,348.9 L223.3,353.4 L227.8,355.6 L232.2,359.3 L232.2,363.8 L227.8,367.5 L224.1,366.8 L224.8,362.3 L219.6,357.8 L214.4,354.1 L213.7,352.6" fill="none" stroke="#fff" stroke-opacity="0.45" stroke-width="0.55"/>
<path d="M218.1,347.4 L219.6,343.0 L224.1,341.5 L222.6,340.0" fill="none" stroke="#fff" stroke-opacity="0.45" stroke-width="0.55"/>
<path d="M232.2,363.8 L230.7,369.0 L227.0,374.9 L232.2,376.4 L235.9,379.4 L237.4,380.9" fill="none" stroke="#fff" stroke-opacity="0.45" stroke-width="0.55"/>
<path d="M227.0,374.9 L226.3,381.6 L229.3,386.1" fill="none" stroke="#fff" stroke-opacity="0.45" stroke-width="0.55"/>
<path d="M360.7,208.7 L359.3,213.9 L362.2,219.9 L363.7,221.4 L366.7,217.6" fill="none" stroke="#fff" stroke-opacity="0.45" stroke-width="0.55"/>
<path d="M363.7,221.4 L365.2,228.8 L363.7,235.5 L368.9,240.7 L376.4,242.2" fill="none" stroke="#fff" stroke-opacity="0.45" stroke-width="0.55"/>
<path d="M368.9,240.7 L352.6,252.6 L349.6,251.1 L331.0,237.7 L326.6,234.0" fill="none" stroke="#fff" stroke-opacity="0.45" stroke-width="0.55"/>
<path d="M352.6,252.6 L352.6,261.5 L348.1,263.7 L345.1,263.7" fill="none" stroke="#fff" stroke-opacity="0.45" stroke-width="0.55"/>
<path d="M331.0,237.7 L332.5,260.7 L319.1,262.2" fill="none" stroke="#fff" stroke-opacity="0.45" stroke-width="0.55"/>
<path d="M395.4,245.1 L415.0,245.1" fill="none" stroke="#fff" stroke-opacity="0.45" stroke-width="0.55"/>
<path d="M395.4,249.6 L394.2,255.5 L392.7,261.5 L390.5,267.4 L392.7,271.9 L386.8,273.4 L380.8,274.9 L374.9,270.4" fill="none" stroke="#fff" stroke-opacity="0.45" stroke-width="0.55"/>
<path d="M372.6,265.9 L373.4,270.4 L370.4,274.9 L367.4,279.3 L364.5,282.3" fill="none" stroke="#fff" stroke-opacity="0.45" stroke-width="0.55"/>
<path d="M337.0,273.4 L337.0,285.0" fill="none" stroke="#fff" stroke-opacity="0.45" stroke-width="0.55"/>
<path d="M341.4,272.6 L340.7,285.0" fill="none" stroke="#fff" stroke-opacity="0.45" stroke-width="0.55"/>
<path d="M345.9,271.9 L345.9,282.3" fill="none" stroke="#fff" stroke-opacity="0.45" stroke-width="0.55"/>
<path d="M348.9,270.4 L349.6,282.3" fill="none" stroke="#fff" stroke-opacity="0.45" stroke-width="0.55"/>
<path d="M351.1,268.9 L350.3,285.0" fill="none" stroke="#fff" stroke-opacity="0.45" stroke-width="0.55"/>
<path d="M312.4,267.4 L319.9,268.9" fill="none" stroke="#fff" stroke-opacity="0.45" stroke-width="0.55"/>
<path d="M394.6,255.0 L392.4,261.7 L390.9,268.4 L392.4,272.8 L396.1,277.3 L400.5,283.2 L403.5,287.7" fill="none" stroke="#fff" stroke-opacity="0.45" stroke-width="0.55"/>
<path d="M376.8,280.3 L384.2,277.3 L392.4,272.8" fill="none" stroke="#fff" stroke-opacity="0.45" stroke-width="0.55"/>
<path d="M377.5,284.7 L384.2,287.0 L388.7,288.4 L394.6,287.0 L403.5,287.7 L409.5,290.7 L416.9,289.9 L419.1,286.2 L415.4,278.8 L416.2,274.3 L419.1,269.9 L421.4,263.9" fill="none" stroke="#fff" stroke-opacity="0.45" stroke-width="0.55"/>
<path d="M396.1,277.3 L402.0,274.3 L408.0,274.3 L413.9,269.9 L416.2,274.3" fill="none" stroke="#fff" stroke-opacity="0.45" stroke-width="0.55"/>
<path d="M419.1,286.2 L424.3,290.7 L431.0,289.9 L434.7,286.2" fill="none" stroke="#fff" stroke-opacity="0.45" stroke-width="0.55"/>
<path d="M416.9,289.9 L416.9,298.1 L416.2,299.6" fill="none" stroke="#fff" stroke-opacity="0.45" stroke-width="0.55"/>
<path d="M416.2,302.6 L427.3,310.7" fill="none" stroke="#fff" stroke-opacity="0.45" stroke-width="0.55"/>
<path d="M409.5,290.7 L408.0,298.1 L407.2,304.1" fill="none" stroke="#fff" stroke-opacity="0.45" stroke-width="0.55"/>
<path d="M407.2,305.5 L406.5,317.4 L410.2,321.9 L414.7,324.1" fill="none" stroke="#fff" stroke-opacity="0.45" stroke-width="0.55"/>
<path d="M416.2,327.8 L422.8,327.8 L428.8,326.4" fill="none" stroke="#fff" stroke-opacity="0.45" stroke-width="0.55"/>
<path d="M370.8,314.5 L379.0,314.5 L380.5,318.9 L388.7,318.9 L390.1,326.4 L394.6,327.8 L394.6,330.8 L403.5,329.3 L405.7,332.3 L408.7,331.6 L406.5,324.9 L406.5,320.4 L410.2,321.9" fill="none" stroke="#fff" stroke-opacity="0.45" stroke-width="0.55"/>
<path d="M378.2,294.4 L379.7,299.6 L377.5,305.5 L373.8,311.5 L370.8,313.7" fill="none" stroke="#fff" stroke-opacity="0.45" stroke-width="0.55"/>
<path d="M364.9,294.4 L372.3,295.1 L373.8,299.6 L372.3,305.5 L369.3,310.0" fill="none" stroke="#fff" stroke-opacity="0.45" stroke-width="0.55"/>
<path d="M394.6,330.8 L394.6,335.0" fill="none" stroke="#fff" stroke-opacity="0.45" stroke-width="0.55"/>
<path d="M410.2,321.9 L413.9,329.3 L415.4,335.0" fill="none" stroke="#fff" stroke-opacity="0.45" stroke-width="0.55"/>
<path d="M369.3,342.5 L379.7,343.2 L387.2,344.7 L390.9,344.0 L399.1,343.2" fill="none" stroke="#fff" stroke-opacity="0.45" stroke-width="0.55"/>
<path d="M390.1,318.0 L390.9,326.9 L394.6,328.4 L393.9,329.9 L390.1,331.4 L390.1,343.2" fill="none" stroke="#fff" stroke-opacity="0.45" stroke-width="0.55"/>
<path d="M394.6,328.4 L402.0,329.9 L405.7,332.8 L405.0,323.9 L407.2,320.9 L412.4,321.7 L415.4,323.9" fill="none" stroke="#fff" stroke-opacity="0.45" stroke-width="0.55"/>
<path d="M399.1,343.2 L405.0,339.5 L408.7,336.6 L413.2,335.8" fill="none" stroke="#fff" stroke-opacity="0.45" stroke-width="0.55"/>
<path d="M399.1,343.2 L401.3,349.9 L405.7,354.4 L409.5,355.1 L411.7,349.9 L412.4,344.7 L413.2,335.8" fill="none" stroke="#fff" stroke-opacity="0.45" stroke-width="0.55"/>
<path d="M387.2,344.7 L387.2,353.7 L385.7,355.1 L385.7,364.1 L390.9,362.6 L396.1,361.1 L401.3,356.6 L405.7,354.4" fill="none" stroke="#fff" stroke-opacity="0.45" stroke-width="0.55"/>
<path d="M385.7,364.1 L384.9,370.7 L380.5,371.5" fill="none" stroke="#fff" stroke-opacity="0.45" stroke-width="0.55"/>
<path d="M409.5,355.1 L410.2,362.6 L409.5,365.5" fill="none" stroke="#fff" stroke-opacity="0.45" stroke-width="0.55"/>
<path d="M399.5,373.0 L400.5,371.5 L402.3,371.5 L403.2,373.0 L402.0,374.5 L400.2,374.5 L399.5,373.0" fill="none" stroke="#fff" stroke-opacity="0.45" stroke-width="0.55"/>
<path d="M414.7,323.9 L416.2,328.4 L415.4,334.3 L417.6,337.3 L418.4,341.8 L416.9,340.3" fill="none" stroke="#fff" stroke-opacity="0.45" stroke-width="0.55"/>
<path d="M436.1,184.9 L432.4,182.0 L431.7,178.2 L435.4,173.8 L442.8,173.0 L448.8,173.8 L454.7,172.3 L455.5,168.6 L462.2,165.6 L469.6,163.4 L475.5,165.6 L481.5,166.4 L487.4,169.3 L491.9,172.3 L497.8,174.5 L506.0,177.5 L502.3,182.7 L499.3,186.4 L500.8,191.6 L494.9,194.6 L488.9,193.9 L484.5,194.6 L480.0,199.1 L475.5,199.1 L469.6,193.9 L465.1,193.1 L461.4,190.9 L457.0,194.6 L452.5,193.9 L451.8,188.7 L456.2,186.4 L447.3,186.4" fill="none" stroke="#fff" stroke-opacity="0.45" stroke-width="0.55"/>
<path d="M506.0,177.5 L512.7,174.5 L520.1,175.3 L526.1,172.3 L530.5,172.3 L535.0,174.5" fill="none" stroke="#fff" stroke-opacity="0.45" stroke-width="0.55"/>
<path d="M506.0,177.5 L511.2,182.0 L517.2,184.9 L523.1,189.4 L530.5,192.4 L535.0,193.9" fill="none" stroke="#fff" stroke-opacity="0.45" stroke-width="0.55"/>
<path d="M457.0,194.6 L462.2,197.6 L468.1,201.3 L474.1,205.0 L478.5,205.7" fill="none" stroke="#fff" stroke-opacity="0.45" stroke-width="0.55"/>
<path d="M478.5,205.7 L480.0,200.5 L484.5,197.6 L488.9,193.9" fill="none" stroke="#fff" stroke-opacity="0.45" stroke-width="0.55"/>
<path d="M480.0,200.5 L484.5,202.0 L490.4,201.3 L494.9,200.5 L499.3,197.6 L494.9,194.6" fill="none" stroke="#fff" stroke-opacity="0.45" stroke-width="0.55"/>
<path d="M494.9,200.5 L496.4,205.7 L494.1,208.0" fill="none" stroke="#fff" stroke-opacity="0.45" stroke-width="0.55"/>
<path d="M467.4,210.9 L468.1,216.9 L466.6,221.4 L469.6,225.8 L468.9,230.0" fill="none" stroke="#fff" stroke-opacity="0.45" stroke-width="0.55"/>
<path d="M494.1,208.0 L490.4,210.9 L487.4,213.9 L485.9,218.4 L481.5,220.6 L477.0,222.8 L469.6,225.8" fill="none" stroke="#fff" stroke-opacity="0.45" stroke-width="0.55"/>
<path d="M430.9,202.0 L435.4,212.4 L433.9,216.9 L439.9,222.8 L443.6,225.8" fill="none" stroke="#fff" stroke-opacity="0.45" stroke-width="0.55"/>
<path d="M485.2,186.0 L485.9,184.5 L490.4,184.0 L494.1,184.5 L493.7,185.7 L488.9,185.4 L486.2,186.6 L485.2,186.0" fill="none" stroke="#fff" stroke-opacity="0.45" stroke-width="0.55"/>
<path d="M520.0,177.5 L525.2,174.5 L527.4,172.3 L533.4,174.5 L539.3,176.0 L546.0,177.5 L552.0,178.2 L557.2,176.0 L563.1,176.8" fill="none" stroke="#fff" stroke-opacity="0.45" stroke-width="0.55"/>
<path d="M563.1,176.8 L562.4,180.5 L567.6,182.0 L571.3,184.2 L567.6,186.4 L562.4,189.4 L560.1,192.4 L552.0,194.6 L546.8,196.1 L539.3,194.6 L531.9,193.1 L525.9,189.4 L520.0,187.9" fill="none" stroke="#fff" stroke-opacity="0.45" stroke-width="0.55"/>
<path d="M563.1,176.8 L564.6,173.0 L566.1,169.3 L571.3,168.6 L575.7,170.8 L579.5,174.5 L585.4,177.5 L592.8,179.7 L597.3,182.0 L598.8,186.4 L596.6,191.6 L601.0,193.9 L602.5,194.6" fill="none" stroke="#fff" stroke-opacity="0.45" stroke-width="0.55"/>
<path d="M502.1,211.7 L503.6,218.4 L507.3,224.3 L514.7,228.8 L522.2,231.0 L526.6,231.8 L534.1,231.0 L537.8,228.0 L541.5,227.3 L544.5,230.3" fill="none" stroke="#fff" stroke-opacity="0.45" stroke-width="0.55"/>
<path d="M507.3,227.3 L514.7,231.8 L522.2,234.0 L525.9,233.2 L526.6,231.8" fill="none" stroke="#fff" stroke-opacity="0.45" stroke-width="0.55"/>
<path d="M554.1,243.9 L556.2,242.5 L558.9,243.9 L562.7,242.5 L565.7,245.3 L567.4,248.3" fill="none" stroke="#fff" stroke-opacity="0.45" stroke-width="0.55"/>
<path d="M558.2,247.3 L561.6,252.1 L564.4,257.6 L567.8,262.4 L569.8,264.4 L571.5,267.4 L569.3,269.6 L568.8,272.3 L570.4,273.9" fill="none" stroke="#fff" stroke-opacity="0.45" stroke-width="0.55"/>
<path d="M551.5,250.0 L554.1,248.7 L556.8,252.1 L556.2,255.5 L558.9,257.6 L561.6,261.0 L566.4,262.4 L570.4,264.2" fill="none" stroke="#fff" stroke-opacity="0.45" stroke-width="0.55"/>
<path d="M560.7,265.3 L562.8,264.5 L566.6,264.2" fill="none" stroke="#fff" stroke-opacity="0.45" stroke-width="0.55"/>
<path d="M370.8,165.7 L371.4,170.1 L372.0,173.9 L376.4,175.8 L382.7,177.0 L387.1,175.8 L387.7,170.1 L386.5,166.3 L385.2,165.7" fill="none" stroke="#fff" stroke-opacity="0.45" stroke-width="0.55"/>
<path d="M376.4,175.8 L378.9,178.9 L375.8,179.5" fill="none" stroke="#fff" stroke-opacity="0.45" stroke-width="0.55"/>
<path d="M378.9,178.9 L386.5,178.3 L387.1,175.8" fill="none" stroke="#fff" stroke-opacity="0.45" stroke-width="0.55"/>
<path d="M376.4,182.0 L381.4,180.8 L386.5,178.3 L387.1,182.0 L382.7,185.8 L378.3,185.8" fill="none" stroke="#fff" stroke-opacity="0.45" stroke-width="0.55"/>
<path d="M387.7,170.1 L395.3,170.7 L400.3,168.8 L405.3,171.4 L409.1,170.7 L415.4,175.1 L419.1,177.0 L418.5,181.4 L414.1,183.3" fill="none" stroke="#fff" stroke-opacity="0.45" stroke-width="0.55"/>
<path d="M387.1,175.8 L388.3,179.5 L387.1,182.0 L388.3,186.4 L386.5,188.3 L392.7,190.8 L397.8,190.2 L399.0,188.9" fill="none" stroke="#fff" stroke-opacity="0.45" stroke-width="0.55"/>
<path d="M388.3,179.5 L395.9,180.2" fill="none" stroke="#fff" stroke-opacity="0.45" stroke-width="0.55"/>
<path d="M391.5,166.3 L397.8,163.8 L400.9,165.7 L400.3,168.8" fill="none" stroke="#fff" stroke-opacity="0.45" stroke-width="0.55"/>
<path d="M393.4,155.7 L394.0,163.8 L397.8,163.8" fill="none" stroke="#fff" stroke-opacity="0.45" stroke-width="0.55"/>
<path d="M386.5,188.3 L387.1,192.7 L388.3,195.2" fill="none" stroke="#fff" stroke-opacity="0.45" stroke-width="0.55"/>
<path d="M392.7,190.8 L398.4,193.3" fill="none" stroke="#fff" stroke-opacity="0.45" stroke-width="0.55"/>
<path d="M382.7,185.8 L385.2,188.9 L386.5,188.3" fill="none" stroke="#fff" stroke-opacity="0.45" stroke-width="0.55"/>
<path d="M380.2,187.7 L382.7,191.5 L383.9,195.2 L382.7,196.5" fill="none" stroke="#fff" stroke-opacity="0.45" stroke-width="0.55"/>
<path d="M422.9,197.5 L426.7,195.2 L431.7,196.5 L435.5,199.0" fill="none" stroke="#fff" stroke-opacity="0.45" stroke-width="0.55"/>
<path d="M427.0,209.4 L426.4,213.8 L421.3,218.8" fill="none" stroke="#fff" stroke-opacity="0.45" stroke-width="0.55"/>
<path d="M432.0,207.5 L435.2,213.8 L438.3,218.8 L441.4,223.9 L442.1,225.8" fill="none" stroke="#fff" stroke-opacity="0.45" stroke-width="0.55"/>
<path d="M423.8,220.1 L430.1,223.2 L437.7,226.4 L441.4,225.1" fill="none" stroke="#fff" stroke-opacity="0.45" stroke-width="0.55"/>
<path d="M434.5,259.0 L437.7,257.2 L443.9,255.9 L453.4,252.1 L455.3,258.4" fill="none" stroke="#fff" stroke-opacity="0.45" stroke-width="0.55"/>
<path d="M453.4,252.1 L459.0,249.6 L460.3,242.7" fill="none" stroke="#fff" stroke-opacity="0.45" stroke-width="0.55"/>
<path d="M466.6,212.6 L467.2,218.8 L469.1,224.5 L472.2,227.0 L474.1,231.4 L471.6,236.4" fill="none" stroke="#fff" stroke-opacity="0.45" stroke-width="0.55"/>
<path d="M469.1,224.5 L475.4,223.2 L480.4,220.7 L485.4,215.7 L487.3,210.7 L492.9,209.4" fill="none" stroke="#fff" stroke-opacity="0.45" stroke-width="0.55"/>
<path d="M447.5,235.4 L449.0,234.9 L449.7,237.4 L448.2,237.9 L447.5,235.4" fill="none" stroke="#fff" stroke-opacity="0.45" stroke-width="0.55"/>
<path d="M106.4,219.2 L110.1,219.2 L113.9,221.6 L119.6,222.5 L123.4,221.6 L127.6,221.6 L130.0,225.3 L132.8,227.2 L136.6,226.8 L139.0,231.0 L141.4,235.3 L142.8,237.6" fill="none" stroke="#fff" stroke-opacity="0.45" stroke-width="0.55"/>
</svg>
<div class="t" id="title" style="left:16.7px;top:27.30px;font-size:20px;font-weight:bold;transform:scaleX(1.1931);">France Joins Others in Recognizing Palestine as a State</div>
<div class="t" id="sub" style="left:16.7px;top:51.80px;font-size:18.6px;transform:scaleX(1.0297);">Move comes as part of French-Saudi push to end the war in Gaza</div>
<div class="sq" style="left:18.9px;background:#ff0896"></div>
<div class="t" id="l1" style="top:86.80px;left:36.7px;font-size:16.8px;transform:scaleX(1.0248);">Recognizes Both</div>
<div class="sq" style="left:181.1px;background:#0aaeff"></div>
<div class="t" id="l2" style="top:86.80px;left:198.7px;font-size:16.8px;transform:scaleX(1.0971);">Israel Only</div>
<div class="sq" style="left:300.9px;background:#0d5c8e"></div>
<div class="t" id="l3" style="top:86.80px;left:318.6px;font-size:16.8px;transform:scaleX(1.0533);">Palestinian State Only</div>
<div class="t" id="f1" style="left:16.2px;top:456.20px;font-size:15.2px;color:#d9d9d9;transform:scaleX(1.0912);">Sources: World Population Review, Bloomberg</div>
<div class="t" id="f2" style="left:16.2px;top:474.10px;font-size:15.2px;color:#d9d9d9;transform:scaleX(1.0940);">Note: Map reflects decisions as of 6pm ET on Sep. 22, 2025. Palestinians</div>
<div class="t" id="f3" style="left:16.2px;top:492.40px;font-size:15.2px;color:#d9d9d9;transform:scaleX(1.1123);">have had status as a non-member observer state in the United Nations</div>
<div class="t" id="f4" style="left:16.2px;top:510.10px;font-size:15.2px;color:#d9d9d9;transform:scaleX(1.0835);">since November 2012</div>
<div class="t" id="bb" style="left:632px;top:505.8px;font-size:17.8px;font-weight:bold;transform:scaleX(0.91);">Bloomberg</div>
</body></html>
